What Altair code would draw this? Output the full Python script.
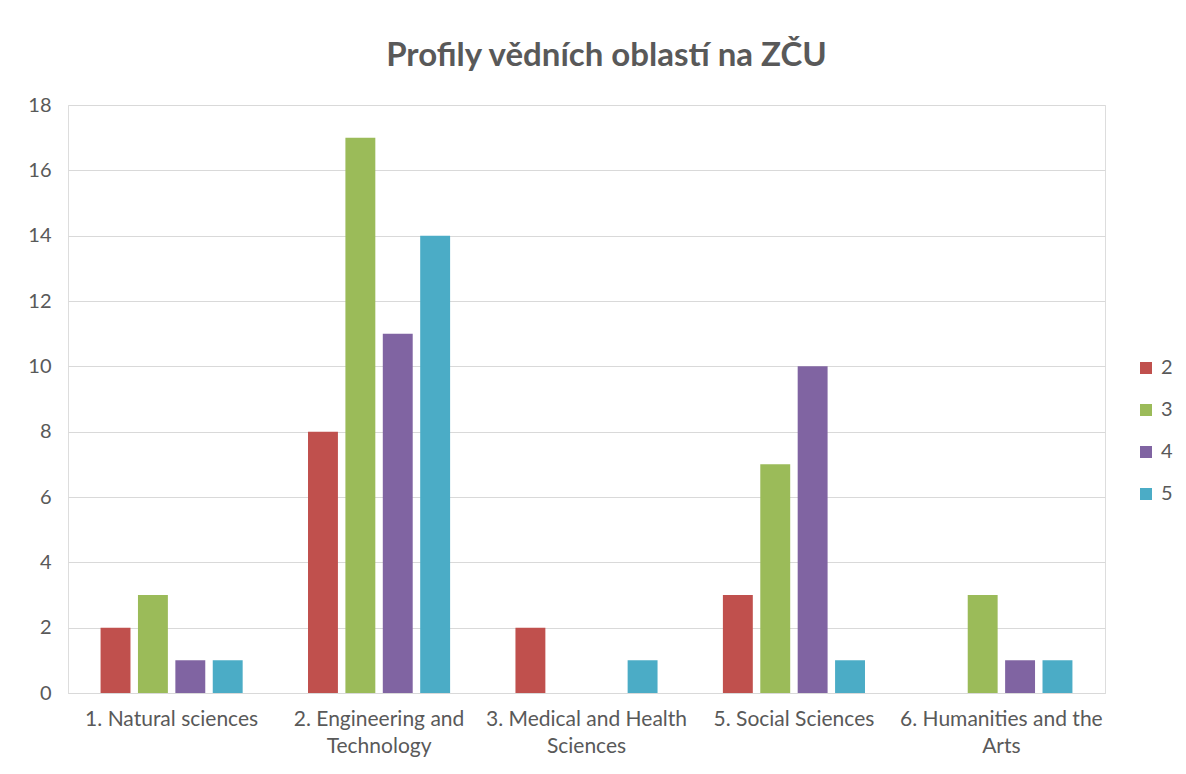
import altair as alt
import pandas as pd

categories = [
    "1. Natural sciences",
    "2. Engineering and|Technology",
    "3. Medical and Health|Sciences",
    "5. Social Sciences",
    "6. Humanities and the|Arts",
]
series = ["2", "3", "4", "5"]
values = {
    "2": [2, 8, 2, 3, 0],
    "3": [3, 17, 0, 7, 3],
    "4": [1, 11, 0, 10, 1],
    "5": [1, 14, 1, 1, 1],
}
colors = ["#C0504D", "#9BBB59", "#8064A2", "#4BACC6"]
y_ticks = list(range(0, 19, 2))

rows = []
for s in series:
    for c, v in zip(categories, values[s]):
        rows.append({"category": c, "series": s, "value": v})
df = pd.DataFrame(rows)

FONT = "Lato"
GRAY = "#595959"

chart = (
    alt.Chart(df)
    .mark_bar()
    .encode(
        x=alt.X(
            "category:N",
            sort=categories,
            title=None,
            scale=alt.Scale(paddingInner=0.315, paddingOuter=0.157),
            axis=alt.Axis(
                labelExpr="split(datum.label, '|')",
                labelAngle=0,
                labelFontSize=21,
                labelFont=FONT,
                labelColor=GRAY,
                labelPadding=15,
                labelLineHeight=27,
                labelBaseline="top",
                ticks=False,
                domainColor="#D9D9D9",
                domainWidth=1,
                grid=False,
                labelLimit=400,
            ),
        ),
        xOffset=alt.XOffset(
            "series:N",
            sort=series,
            scale=alt.Scale(paddingInner=0.2, paddingOuter=0.0),
        ),
        y=alt.Y(
            "value:Q",
            title=None,
            scale=alt.Scale(domain=[0, 18], nice=False),
            axis=alt.Axis(
                values=y_ticks,
                labelFontSize=20,
                labelFont=FONT,
                labelColor=GRAY,
                labelPadding=17,
                ticks=False,
                domain=False,
                gridColor="#D9D9D9",
                gridWidth=1,
            ),
        ),
        color=alt.Color(
            "series:N",
            sort=series,
            scale=alt.Scale(domain=series, range=colors),
            legend=alt.Legend(
                title=None,
                orient="none",
                legendX=1068,
                legendY=253,
                symbolType="square",
                symbolSize=144,
                symbolStrokeWidth=0,
                symbolOpacity=1,
                labelFontSize=20,
                labelFont=FONT,
                labelColor=GRAY,
                rowPadding=22,
                labelOffset=5,
                padding=0,
            ),
        ),
    )
    .properties(
        width=1037,
        height=588,
        title=alt.TitleParams(
            text="Profily vědních oblastí na ZČU",
            font=FONT,
            fontSize=33,
            fontWeight="bold",
            color=GRAY,
            anchor="middle",
            frame="group",
            dx=20,
            offset=22,
        ),
        padding={"left": 60, "top": 97, "right": 73, "bottom": 66},
        autosize=alt.AutoSizeParams(type="none"),
    )
    .configure_view(stroke=None)
    .configure(background="white")
)

chart.save("out.html", embed_options={"renderer": "svg", "actions": False})
